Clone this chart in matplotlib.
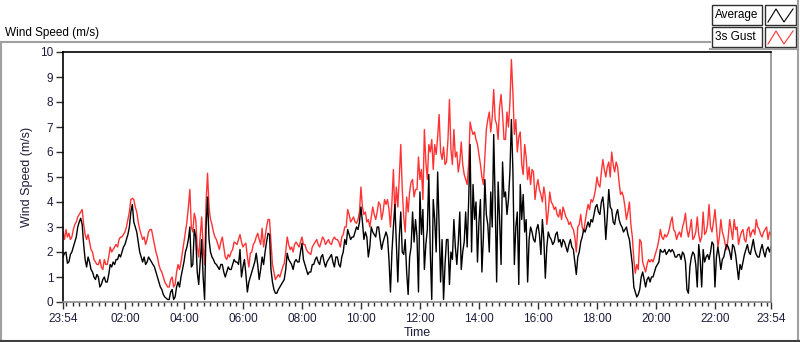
import numpy as np
import matplotlib
matplotlib.use("Agg")
import matplotlib.pyplot as plt
from matplotlib.patches import Rectangle
from matplotlib.lines import Line2D

plt.rcParams["font.family"] = ["Liberation Sans", "DejaVu Sans"]

# wind speed (m/s), one value every 3 minutes from 23:54 (one row per hour)
gust = [
    2.8, 2.5, 2.9, 2.6, 2.75, 2.5, 2.6, 2.9, 3.1, 3.2, 3.4, 3.5, 3.6, 3.7, 3.1, 2.7, 2.5, 2.7, 2.4, 2.1,
    2.0, 1.7, 1.6, 1.5, 1.5, 1.7, 1.4, 1.3, 1.7, 1.5, 1.5, 1.8, 2.2, 2.0, 2.1, 2.2, 2.3, 2.2, 2.5, 2.6,
    2.6, 2.7, 2.8, 3.0, 3.3, 3.6, 4.1, 4.15, 4.1, 3.8, 3.6, 3.2, 2.9, 2.7, 2.5, 2.6, 2.3, 2.5, 2.8, 2.9,
    2.9, 2.6, 2.3, 2.0, 1.8, 1.5, 1.3, 1.2, 1.0, 0.8, 0.7, 0.6, 0.6, 0.9, 1.0, 0.6, 0.7, 1.2, 1.5, 1.3,
    1.6, 2.0, 2.4, 2.8, 3.2, 3.8, 4.5, 3.0, 2.8, 3.55, 3.3, 2.2, 1.8, 2.6, 3.4, 2.2, 1.5, 4.0, 5.15, 3.8,
    3.3, 3.1, 2.8, 2.6, 2.5, 2.3, 2.1, 2.4, 2.6, 2.2, 1.8, 1.7, 1.9, 1.8, 2.0, 2.1, 2.4, 2.35, 2.3, 2.5,
    2.7, 2.4, 2.2, 2.3, 2.35, 1.8, 1.4, 1.95, 2.0, 2.3, 2.4, 2.6, 2.75, 2.5, 2.3, 2.95, 2.2, 2.6, 3.0, 3.3,
    3.3, 2.4, 1.5, 1.2, 0.9, 1.0, 1.1, 1.0, 1.2, 1.4, 1.55, 2.0, 2.6, 2.3, 2.1, 2.2, 2.0, 2.3, 2.4, 2.3,
    2.2, 2.4, 2.6, 2.3, 2.3, 2.1, 2.0, 1.95, 1.9, 2.2, 2.3, 2.4, 2.5, 2.3, 2.2, 2.4, 2.6, 2.5, 2.3, 2.4,
    2.5, 2.35, 2.3, 2.5, 2.6, 2.5, 2.5, 2.4, 2.2, 2.6, 2.7, 3.0, 3.0, 3.7, 3.5, 3.2, 3.3, 3.4, 3.2, 3.15,
    3.3, 3.6, 4.6, 3.8, 3.5, 3.6, 3.2, 3.3, 3.0, 3.4, 3.8, 3.5, 3.3, 3.6, 4.0, 3.9, 3.3, 3.6, 4.1, 3.9,
    4.1, 3.7, 3.0, 4.0, 5.3, 3.5, 4.6, 3.8, 5.0, 6.3, 4.5, 3.4, 2.8, 4.2, 3.6, 4.4, 4.8, 4.9, 4.2, 4.5,
    4.5, 5.8, 4.9, 5.3, 4.1, 6.9, 5.6, 4.9, 6.3, 6.0, 6.5, 5.3, 6.3, 5.9, 6.6, 7.5, 6.0, 5.7, 6.2, 5.5,
    5.6, 6.5, 8.1, 6.1, 5.5, 6.9, 5.8, 6.0, 5.2, 5.6, 6.4, 5.5, 5.1, 4.9, 4.7, 5.5, 7.2, 6.9, 6.7, 6.8,
    6.5, 6.3, 5.9, 5.5, 5.0, 4.7, 5.8, 6.9, 7.3, 7.6, 6.8, 7.4, 8.5, 7.3, 7.1, 6.5, 7.8, 8.3, 7.5, 6.5,
    6.5, 7.6, 7.0, 8.0, 9.7, 8.4, 6.7, 7.3, 6.0, 6.6, 6.8, 5.5, 5.1, 6.3, 5.8, 4.9, 5.4, 4.7, 5.3, 5.2,
    4.1, 4.6, 4.9, 4.5, 4.3, 4.0, 4.6, 4.2, 3.1, 3.6, 4.4, 4.0, 3.9, 3.7, 3.8, 3.5, 3.4, 3.7, 3.3, 3.8,
    3.6, 3.4, 3.3, 3.1, 3.2, 3.0, 2.9, 2.6, 2.0, 3.0, 3.1, 3.5, 3.0, 2.8, 3.2, 3.6, 3.9, 3.7, 4.1, 4.0,
    4.2, 4.5, 5.0, 4.7, 4.6, 5.2, 5.7, 5.3, 5.0, 5.4, 5.6, 5.0, 6.0, 5.5, 5.2, 5.6, 5.4, 4.8, 4.3, 4.4,
    4.2, 3.8, 3.3, 3.6, 4.0, 3.1, 2.6, 1.7, 1.15, 1.5, 1.3, 2.5, 2.4, 1.6, 1.4, 1.2, 1.5, 1.7, 1.6, 1.7,
    1.6, 1.8, 2.0, 2.2, 2.5, 2.9, 2.6, 2.5, 2.7, 2.6, 2.7, 2.9, 3.2, 3.4, 2.9, 2.8, 2.5, 2.7, 2.8, 2.6,
    3.0, 3.2, 3.55, 2.9, 2.6, 2.9, 3.3, 2.5, 2.6, 2.8, 3.4, 2.7, 2.4, 2.6, 3.6, 2.7, 2.8, 3.1, 3.9, 3.0,
    2.8, 3.2, 3.7, 3.0, 2.2, 2.6, 3.3, 2.8, 2.6, 2.3, 2.1, 2.6, 3.3, 2.9, 2.5, 3.3, 2.9, 3.0, 2.3, 2.6,
    2.8, 2.9, 2.5, 2.4, 2.9, 3.0, 2.6, 2.8, 2.9, 2.7, 3.3, 3.0, 2.9, 2.7, 2.6, 2.8, 2.9, 3.0, 2.5, 2.8,
    2.7,
]

average = [
    1.8, 1.95, 2.0, 1.55, 1.6, 1.9, 2.0, 2.2, 2.4, 2.6, 3.0, 3.2, 3.35, 3.1, 2.3, 1.7, 1.4, 1.8, 1.6, 1.3,
    1.2, 1.0, 0.9, 1.1, 1.0, 0.6, 0.7, 0.9, 1.0, 0.8, 0.8, 1.1, 1.5, 1.4, 1.6, 1.5, 1.7, 1.7, 1.9, 1.8,
    2.0, 2.2, 2.3, 2.5, 2.7, 3.0, 3.6, 3.9, 3.2, 3.0, 2.8, 2.4, 2.0, 1.8, 1.6, 1.8, 1.5, 1.6, 1.8, 1.7,
    1.6, 1.5, 1.4, 1.2, 1.0, 0.8, 0.6, 0.5, 0.3, 0.2, 0.15, 0.1, 0.1, 0.4, 0.5, 0.1, 0.2, 0.6, 0.8, 0.6,
    1.0, 1.3, 1.6, 2.0, 2.2, 2.5, 3.0, 1.4, 1.5, 2.9, 2.6, 1.2, 0.7, 1.6, 2.5, 1.0, 0.1, 3.0, 4.2, 2.5,
    2.0, 1.8, 1.7, 1.55, 1.5, 1.4, 1.3, 1.5, 1.5, 1.2, 1.0, 1.2, 1.4, 1.3, 1.3, 1.5, 1.7, 1.6, 1.6, 1.5,
    2.1, 1.0, 1.4, 1.7, 1.1, 0.4, 0.8, 1.0, 1.2, 1.4, 1.6, 1.95, 1.5, 0.9, 1.3, 1.8, 1.5, 2.0, 2.4, 2.75,
    2.7, 1.3, 0.8, 0.5, 0.35, 0.35, 0.5, 0.6, 0.7, 0.8, 0.9, 1.3, 1.95, 1.7, 1.6, 1.5, 1.3, 1.6, 1.7, 1.6,
    1.6, 2.0, 2.35, 1.7, 1.5, 1.3, 1.1, 1.2, 1.2, 1.5, 1.5, 1.7, 1.8, 1.6, 1.5, 1.8, 1.9, 1.6, 1.4, 1.6,
    1.7, 1.8, 1.9, 1.6, 1.4, 1.8, 1.8, 1.5, 1.4, 1.8, 2.0, 2.5, 2.3, 2.9, 2.7, 2.5, 2.6, 2.6, 2.8, 3.0,
    2.9, 3.2, 3.8, 3.2, 2.5, 2.8, 2.6, 1.8, 2.2, 3.0, 2.8, 2.7, 2.6, 3.0, 3.0, 2.5, 2.1, 2.4, 2.6, 2.8,
    2.6, 1.7, 0.4, 2.0, 3.0, 3.9, 2.4, 0.8, 2.6, 3.6, 2.0, 1.9, 2.5, 1.2, 0.3, 1.8, 2.2, 3.6, 2.4, 3.3,
    2.6, 0.4, 4.4, 2.7, 3.7, 1.3, 2.3, 2.9, 5.1, 2.0, 0.1, 4.1, 3.3, 2.0, 5.2, 3.0, 0.8, 2.5, 0.1, 1.5,
    2.5, 2.5, 0.7, 2.0, 1.7, 3.3, 2.2, 1.5, 2.4, 3.6, 1.3, 2.0, 2.4, 3.6, 2.2, 4.0, 6.3, 2.0, 4.7, 3.3,
    4.0, 1.6, 3.2, 4.1, 1.2, 2.6, 4.9, 3.5, 3.1, 2.0, 4.4, 3.0, 6.7, 4.0, 0.8, 4.8, 3.3, 1.5, 5.6, 4.2,
    4.4, 3.5, 4.1, 5.2, 7.3, 5.3, 1.5, 3.0, 3.6, 0.7, 4.7, 3.3, 4.3, 2.8, 3.3, 0.8, 2.5, 3.0, 2.8, 2.5,
    2.4, 2.9, 3.1, 2.7, 1.9, 3.3, 2.5, 0.95, 2.2, 2.8, 2.6, 2.5, 2.3, 2.4, 2.7, 2.8, 2.4, 2.5, 2.2, 2.5,
    2.4, 2.2, 2.0, 2.3, 2.5, 2.2, 2.1, 1.6, 1.1, 1.8, 2.0, 2.4, 2.6, 2.9, 2.8, 3.0, 3.2, 3.0, 3.3, 3.2,
    3.5, 3.8, 3.9, 3.6, 3.5, 4.0, 4.2, 3.6, 2.5, 3.4, 4.5, 3.8, 3.7, 3.2, 3.1, 3.5, 3.7, 3.3, 3.1, 3.0,
    2.8, 2.9, 3.0, 2.7, 2.5, 2.0, 1.5, 0.6, 0.4, 0.2, 0.3, 0.5, 1.0, 1.2, 0.9, 0.6, 0.9, 1.0, 0.8, 1.0,
    1.0, 1.2, 1.4, 1.5, 1.6, 2.1, 2.0, 2.0, 2.1, 1.9, 2.0, 2.1, 2.0, 2.1, 2.0, 1.8, 1.8, 1.9, 1.9, 1.7,
    2.0, 1.9, 1.6, 0.5, 0.35, 1.4, 1.8, 2.0, 1.9, 1.5, 0.6, 2.3, 1.7, 0.6, 2.1, 1.6, 1.8, 1.9, 1.7, 2.0,
    2.4, 2.3, 0.6, 1.8, 2.2, 1.8, 1.3, 1.7, 1.8, 2.1, 2.3, 2.2, 2.0, 1.7, 2.3, 2.2, 1.9, 1.4, 0.9, 1.5,
    1.3, 1.6, 1.9, 2.1, 2.3, 2.0, 1.9, 2.2, 2.5, 2.1, 1.9, 1.8, 1.8, 2.1, 2.3, 2.0, 1.8, 2.1, 2.2, 2.0,
    2.2,
]

tick_labels = ["23:54", "02:00", "04:00", "06:00", "08:00", "10:00", "12:00",
               "14:00", "16:00", "18:00", "20:00", "22:00", "23:54"]

txt = "#1c1c3c"
fig = plt.figure(figsize=(8, 3.42), dpi=100)
fig.patch.set_facecolor("white")

ax = fig.add_axes([63/800, 1 - 302/342, 708/800, 250/342])
ax.plot(np.arange(len(gust)) * 3 / 60.0, gust, color="#ff3333", lw=1.0)
ax.plot(np.arange(len(average)) * 3 / 60.0, average, color="black", lw=1.0)
ax.set_xlim(0, 24)
ax.set_ylim(0, 10)

# major ticks: 23:54, then every 2 hours on the clock
major = [0] + [2.1 + 2*i for i in range(11)] + [24]
ax.set_xticks(major)
ax.set_xticklabels(tick_labels)
minor = [0.1]
for k in range(12):
    for j in range(1, 9):
        t = 0.1 + 2*k + j * 2/9
        if t < 24:
            minor.append(t)
ax.set_xticks(minor, minor=True)
ax.set_yticks(range(0, 11))

ax.tick_params(axis="both", labelsize=8.5, colors=txt, direction="out")
ax.tick_params(axis="x", which="major", length=5, width=1, color="#303030", pad=3)
ax.tick_params(axis="x", which="minor", length=3, width=1, color="#303030")
ax.tick_params(axis="y", length=5, width=1, color="#303030", pad=2)

for s in ["top", "left"]:
    ax.spines[s].set_color("black")
    ax.spines[s].set_linewidth(1.2)
for s in ["bottom", "right"]:
    ax.spines[s].set_color("#8c8c8c")
    ax.spines[s].set_linewidth(1.2)

ax.set_ylabel("Wind Speed (m/s)", fontsize=9, color=txt, labelpad=5)
ax.set_xlabel("Time", fontsize=9, color=txt, labelpad=1)

# panel frame and title, LabVIEW style
W, H = 800, 342
def fx(x):
    return x / W
def fy(y):
    return 1 - y / H

fig.add_artist(Line2D([fx(0), fx(710)], [fy(42), fy(42)], color="#a0a0a0", lw=1.5))
fig.add_artist(Line2D([fx(1), fx(1)], [fy(42), fy(342)], color="#a0a0a0", lw=1.5))
fig.add_artist(Line2D([fx(798), fx(798)], [fy(0), fy(342)], color="#a0a0a0", lw=1.5))
fig.add_artist(Line2D([fx(0), fx(800)], [fy(341), fy(341)], color="#404040", lw=1.5))
fig.add_artist(Line2D([fx(710), fx(798)], [fy(49), fy(49)], color="#a0a0a0", lw=1.5))
fig.text(fx(5), fy(33), "Wind Speed (m/s)", fontsize=8.5, color="black", va="center")

# legend
names = ["Average", "3s Gust"]
cols = ["black", "#ff3333"]
for i, (nm, c) in enumerate(zip(names, cols)):
    y0 = 5 + i * 22
    fig.add_artist(Rectangle((fx(712), fy(y0 + 20)), 50/W, 20/H, transform=fig.transFigure,
                             facecolor="white", edgecolor="#303030", lw=1))
    fig.text(fx(715), fy(y0 + 10), nm, fontsize=8.5, color="black", va="center")
    fig.add_artist(Rectangle((fx(765), fy(y0 + 20)), 31/W, 20/H, transform=fig.transFigure,
                             facecolor="white", edgecolor="#303030", lw=1))
    xs = [768, 776, 784, 793]
    ys = [y0 + 17, y0 + 4, y0 + 17, y0 + 4]
    fig.add_artist(Line2D([fx(x) for x in xs], [fy(y) for y in ys], color=c, lw=0.8))

fig.savefig("out.png", dpi=100)
